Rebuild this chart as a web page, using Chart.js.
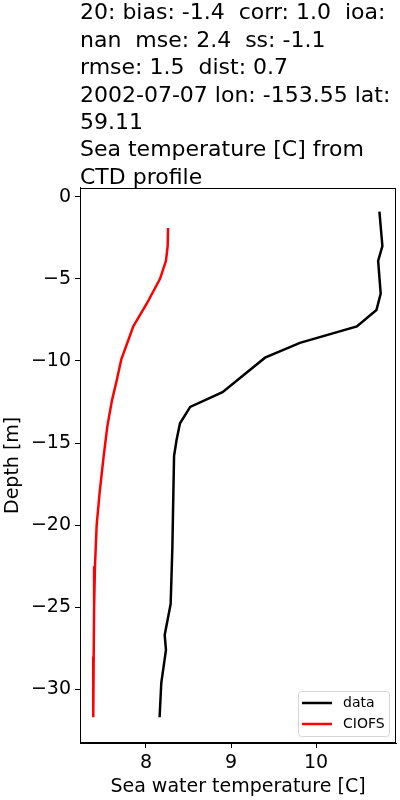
<!DOCTYPE html>
<html>
<head>
<meta charset="utf-8">
<script src="https://cdn.jsdelivr.net/npm/chart.js@4"></script>
<style>
html, body { margin: 0; padding: 0; background: #fff; }
</style>
</head>
<body>
<canvas id="myChart" width="400" height="800"></canvas>
<script>
// title text, one entry per line
var titleLines = [
    "20: bias: -1.4  corr: 1.0  ioa:",
    "nan  mse: 2.4  ss: -1.1",
    "rmse: 1.5  dist: 0.7",
    "2002-07-07 lon: -153.55 lat:",
    "59.11",
    "Sea temperature [C] from",
    "CTD profile"
];

// CTD profile (observed)
var dataDepth = [-0.9, -3.0, -3.9, -5.9, -6.9, -7.9, -8.9, -9.8, -11.9, -12.8, -13.8, -14.8, -15.8, -21.4, -24.8, -26.7, -27.6, -29.6, -31.7];
var dataTemp  = [10.745, 10.78, 10.73, 10.76, 10.71, 10.48, 9.81, 9.40, 8.90, 8.52, 8.40, 8.36, 8.33, 8.31, 8.29, 8.22, 8.235, 8.18, 8.16];

// CIOFS model profile
var modelDepth = [-1.9, -3.0, -3.9, -5.0, -6.5, -7.9, -9.9, -11.2, -12.4, -14.0, -15.9, -18.0, -20.0, -22.5, -25.0, -28.0, -31.7];
var modelTemp  = [8.26, 8.255, 8.235, 8.165, 8.01, 7.85, 7.71, 7.655, 7.60, 7.545, 7.50, 7.455, 7.42, 7.40, 7.39, 7.385, 7.38];

var xTicks = [8, 9, 10];
var yTicks = [0, -5, -10, -15, -20, -25, -30];

var FONT = "'DejaVu Sans', sans-serif";

function toPoints(xs, ys) {
    var pts = [];
    for (var i = 0; i < xs.length; i++) {
        pts.push({x: xs[i], y: ys[i]});
    }
    return pts;
}

// box around the plot area, like matplotlib spines
var framePlugin = {
    id: 'frame',
    afterDraw: function(chart) {
        var a = chart.chartArea;
        var ctx = chart.ctx;
        ctx.save();
        ctx.strokeStyle = '#000';
        ctx.lineWidth = 1;
        ctx.strokeRect(Math.round(a.left) + 0.5, Math.round(a.top) + 0.5,
            Math.round(a.right - a.left) - 1, Math.round(a.bottom - a.top) - 1);
        ctx.restore();
    }
};

// legend drawn inside the lower right corner of the plot
var insideLegend = {
    id: 'insideLegend',
    afterDraw: function(chart) {
        var a = chart.chartArea;
        var ctx = chart.ctx;
        var w = 91, h = 45;
        var x0 = a.right - 7 - w, y0 = a.bottom - 7 - h;
        ctx.save();
        ctx.beginPath();
        ctx.roundRect(x0 + 0.5, y0 + 0.5, w, h, 3);
        ctx.fillStyle = 'rgba(255,255,255,0.8)';
        ctx.fill();
        ctx.strokeStyle = '#d6d6d6';
        ctx.lineWidth = 1;
        ctx.stroke();
        ctx.font = "14px " + FONT;
        ctx.textBaseline = 'middle';
        chart.data.datasets.forEach(function(ds, i) {
            var ly = y0 + 12 + i * 21;
            ctx.strokeStyle = ds.borderColor;
            ctx.lineWidth = 2.5;
            ctx.beginPath();
            ctx.moveTo(x0 + 4, ly);
            ctx.lineTo(x0 + 34, ly);
            ctx.stroke();
            ctx.fillStyle = '#000';
            ctx.fillText(ds.label, x0 + 45, ly);
        });
        ctx.restore();
    }
};

const ctx = document.getElementById('myChart');

new Chart(ctx, {
    type: 'scatter',
    data: {
        datasets: [{
            label: 'data',
            data: toPoints(dataTemp, dataDepth),
            showLine: true,
            borderColor: '#000000',
            backgroundColor: '#000000',
            borderWidth: 2.5,
            pointRadius: 0,
            tension: 0
        }, {
            label: 'CIOFS',
            data: toPoints(modelTemp, modelDepth),
            showLine: true,
            borderColor: '#ff0000',
            backgroundColor: '#ff0000',
            borderWidth: 2.5,
            pointRadius: 0,
            tension: 0
        }]
    },
    options: {
        responsive: false,
        animation: false,
        layout: { padding: { left: 0, right: 4, top: 0, bottom: 0 } },
        plugins: {
            legend: { display: false },
            tooltip: { enabled: false },
            title: {
                display: true,
                text: titleLines,
                align: 'start',
                fullSize: false,
                color: '#000',
                font: { family: FONT, size: 22, weight: 'normal', lineHeight: 1.245 },
                padding: { top: 0, bottom: -4 }
            }
        },
        scales: {
            x: {
                type: 'linear',
                min: 7.224,
                max: 10.94,
                afterBuildTicks: function(scale) {
                    scale.ticks = xTicks.map(function(v) { return {value: v}; });
                },
                afterFit: function(scale) { scale.height = 57; },
                grid: { drawOnChartArea: false, drawTicks: true, tickLength: 5, color: '#000' },
                border: { display: true, color: '#000' },
                ticks: {
                    color: '#000',
                    padding: 4,
                    maxRotation: 0,
                    font: { family: FONT, size: 19 }
                },
                title: {
                    display: true,
                    text: 'Sea water temperature [C]',
                    color: '#000',
                    font: { family: FONT, size: 19 },
                    padding: { top: 0, bottom: 2 }
                }
            },
            y: {
                type: 'linear',
                min: -33.27,
                max: 0.55,
                afterBuildTicks: function(scale) {
                    scale.ticks = yTicks.map(function(v) { return {value: v}; });
                },
                afterFit: function(scale) { scale.width = 80; },
                grid: { drawOnChartArea: false, drawTicks: true, tickLength: 5, color: '#000' },
                border: { display: true, color: '#000' },
                ticks: {
                    color: '#000',
                    padding: 4,
                    font: { family: FONT, size: 19 },
                    callback: function(v) { return v < 0 ? '\u2212' + Math.abs(v) : String(v); }
                },
                title: {
                    display: true,
                    text: 'Depth [m]',
                    color: '#000',
                    font: { family: FONT, size: 19 },
                    padding: { top: 2, bottom: 0 }
                }
            }
        }
    },
    plugins: [framePlugin, insideLegend]
});
</script>
</body>
</html>
